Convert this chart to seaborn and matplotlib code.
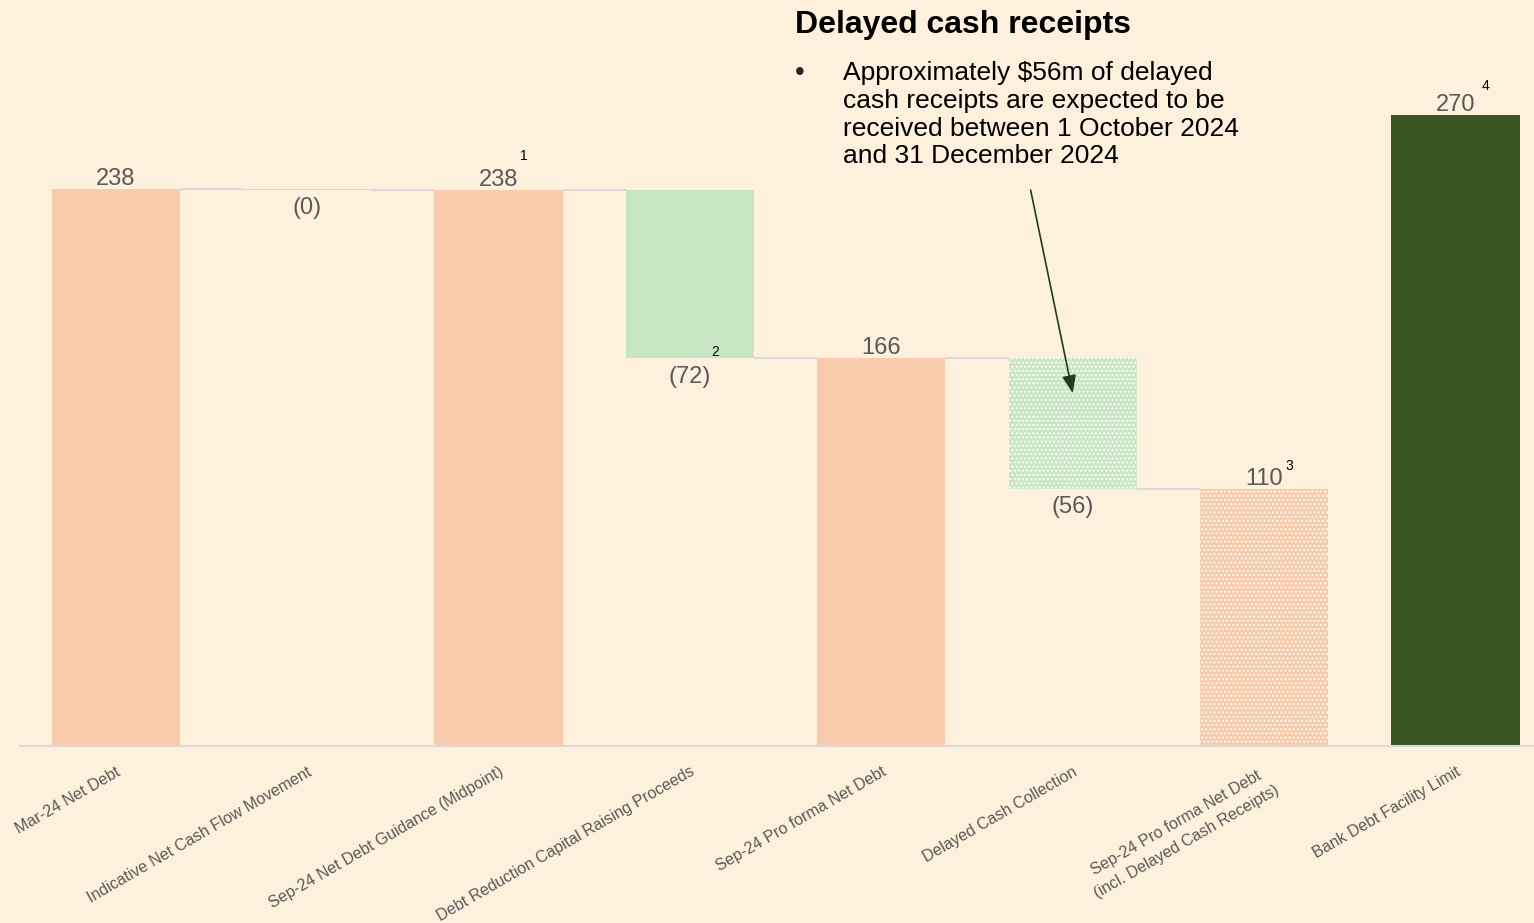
import numpy as np
import pandas as pd
import matplotlib
matplotlib.use("Agg")
import matplotlib.pyplot as plt
import seaborn as sns

# data
categories = [
    "Mar-24 Net Debt",
    "Indicative Net Cash Flow Movement",
    "Sep-24 Net Debt Guidance (Midpoint)",
    "Debt Reduction Capital Raising Proceeds",
    "Sep-24 Pro forma Net Debt",
    "Delayed Cash Collection",
    "Sep-24 Pro forma Net Debt\n(incl. Delayed Cash Receipts)",
    "Bank Debt Facility Limit",
]
values = [238.3, -0.4, 237.9, -72.0, 165.9, -56.0, 109.9, 270.0]
kinds = ["total", "delta", "total", "delta", "total", "delta", "total", "limit"]
footnotes = {2: "1", 3: "2", 6: "3", 7: "4"}
dotted = [5, 6]

BG = "#FDF0DC"
PEACH = "#F8CBAD"
LIGHT_GREEN = "#C9E6C4"
DARK_GREEN = "#375623"
GREY_TXT = "#595959"
LINE = "#D9D9D9"

# waterfall bottoms / heights
bottoms, heights, level = [], [], 0.0
for v, k in zip(values, kinds):
    if k == "delta":
        bottoms.append(level)
        heights.append(v)
        level += v
    else:
        bottoms.append(0.0)
        heights.append(v)
        level = v
df = pd.DataFrame({"cat": categories, "height": heights, "bottom": bottoms, "kind": kinds})

sns.set_theme(style="white")
plt.rcParams["font.family"] = ["Liberation Sans", "DejaVu Sans"]
plt.rcParams["hatch.linewidth"] = 0.9

fig = plt.figure(figsize=(15.34, 9.23), dpi=100, facecolor=BG)
ax = fig.add_axes([20 / 1534, 177 / 923, 1 - 20 / 1534, 746 / 923])
ax.set_facecolor(BG)

width = 0.67
sns.barplot(data=df, x="cat", y="height", bottom=df["bottom"].values, width=width,
            color=PEACH, saturation=1, ax=ax, errorbar=None)

colors = {"total": PEACH, "delta": LIGHT_GREEN, "limit": DARK_GREEN}
for i, p in enumerate(ax.patches):
    p.set_facecolor(colors[kinds[i]])
    p.set_linewidth(0)
    if i in dotted:
        p.set_hatch("....")
        p.set_edgecolor("white")

# connectors
for i in range(len(values) - 2):
    lvl = bottoms[i] + heights[i]
    ax.hlines(lvl, i + width / 2, i + 1 - width / 2, color=LINE, lw=1.5, zorder=1)

# value labels
for i, (b, h, k) in enumerate(zip(bottoms, heights, kinds)):
    if k == "delta":
        y = b + h
        txt = f"({abs(h):.0f})"
        off = -13
    else:
        y = h
        txt = f"{h:.0f}"
        off = 7.5
    ax.annotate(txt, (i, y), xytext=(0, off), textcoords="offset points",
                ha="center", va="center", fontsize=17, color=GREY_TXT)

# footnote markers (offsets in points)
marker_offsets = {2: (18, 25), 3: (18, 5), 6: (18, 17), 7: (21.5, 21)}
for i, mark in footnotes.items():
    b, h = bottoms[i], heights[i]
    y = b + h if kinds[i] == "delta" else h
    ax.annotate(mark, (i, y), xytext=marker_offsets[i], textcoords="offset points",
                ha="center", va="center", fontsize=10, color="black")

ax.set_xlim(-0.5, 7.41)
ax.set_ylim(0, 746 / 2.336)
ax.set_yticks([])
ax.set_xlabel("")
ax.set_ylabel("")
for s in ["top", "right", "left"]:
    ax.spines[s].set_visible(False)
ax.spines["bottom"].set_color(LINE)
ax.spines["bottom"].set_linewidth(1.5)
ax.set_xticks(range(len(categories)))
ax.set_xticklabels(categories, rotation=30, ha="right", rotation_mode="anchor",
                   va="top", fontsize=11.5, color=GREY_TXT)
for lbl in ax.get_xticklabels():
    lbl.set_multialignment("center")
    lbl.set_linespacing(1.5)
ax.tick_params(axis="x", length=0, pad=13)

# call-out
fig.text(795 / 1534, 1 - 25 / 923, "Delayed cash receipts", fontsize=23,
         fontweight="bold", ha="left", va="center", color="black")
fig.text(795 / 1534, 1 - 73 / 923, "\u2022", fontsize=20, ha="left", va="center")
fig.text(843 / 1534, 1 - 61 / 923,
         "Approximately $56m of delayed\ncash receipts are expected to be\n"
         "received between 1 October 2024\nand 31 December 2024",
         fontsize=19, ha="left", va="top", linespacing=1.2, color="black")
ax.annotate("", xy=(5.0, 151), xytext=(4.78, 238),
            arrowprops=dict(arrowstyle="-|>,head_length=0.9,head_width=0.35",
                            color="#233D1C", lw=1.2, shrinkA=0, shrinkB=0))

fig.savefig("out.png", dpi=100, facecolor=BG)
